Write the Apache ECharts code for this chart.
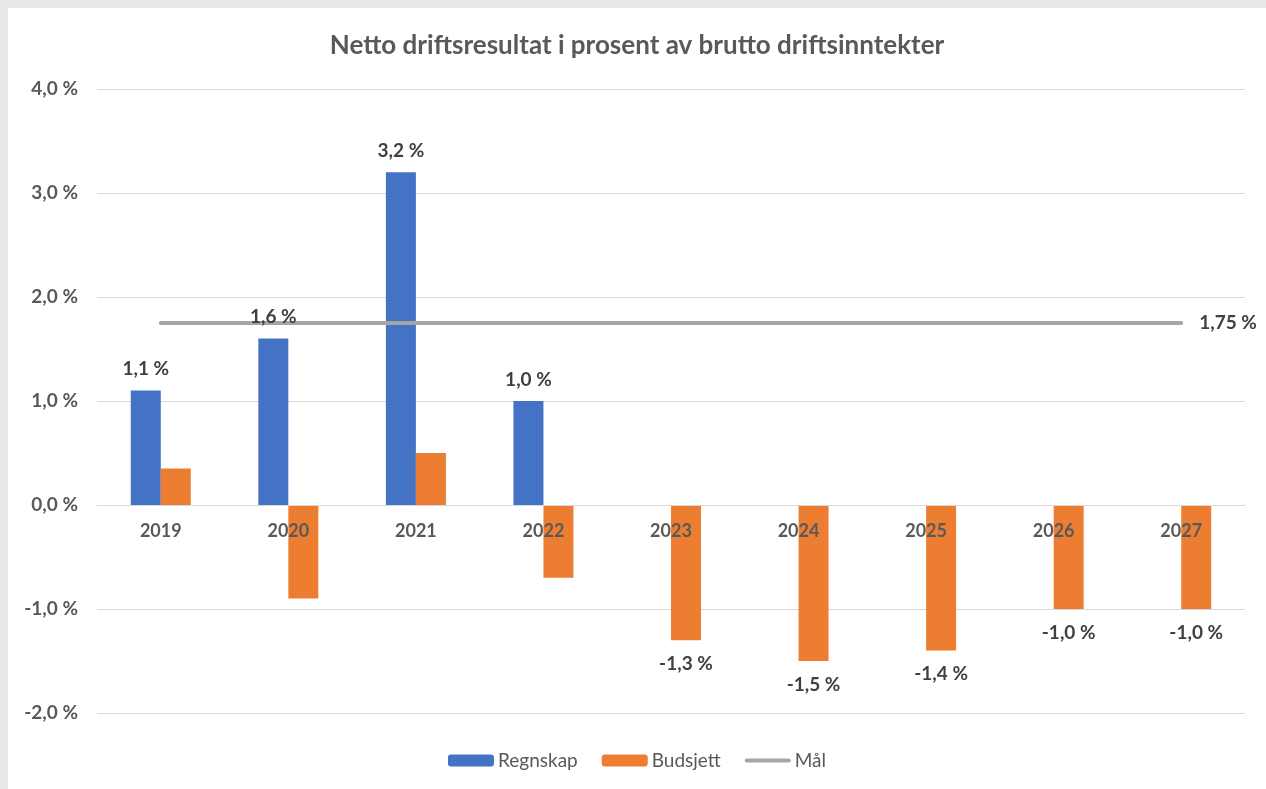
<!DOCTYPE html>
<html>
<head>
<meta charset="utf-8">
<script src="https://cdn.jsdelivr.net/npm/echarts@6/dist/echarts.min.js"></script>
<style>
  body { margin: 0; background: #e9e9e9; }
  #chart { position: absolute; left: 8px; top: 8px; width: 1258px; height: 781px; background: #fff; }
</style>
</head>
<body>
<div id="chart"></div>
<script>
var years = ['2019', '2020', '2021', '2022', '2023', '2024', '2025', '2026', '2027'];
var regnskap = [1.1, 1.6, 3.2, 1.0, null, null, null, null, null];
var budsjett = [0.35, -0.9, 0.5, -0.7, -1.3, -1.5, -1.4, -1.0, -1.0];
var maal = [1.75, 1.75, 1.75, 1.75, 1.75, 1.75, 1.75, 1.75, 1.75];
// budsjett labels only shown for these years
var budsjettLabelFrom = 4;

var fontName = 'Lato, "Open Sans", sans-serif';
var fmt = function (v) { return v.toFixed(1).replace('.', ',') + ' %'; };

var myChart = echarts.init(document.getElementById('chart'));

var option = {
    animation: false,
    textStyle: { fontFamily: fontName },
    title: {
        text: 'Netto driftsresultat i prosent av brutto driftsinntekter',
        left: 'center',
        top: 20,
        textStyle: { fontSize: 26, fontWeight: 'bold', color: '#595959', fontFamily: fontName }
    },
    legend: {
        bottom: 14,
        left: 'center',
        itemWidth: 46,
        itemHeight: 12,
        itemGap: 24,
        textStyle: { fontSize: 19, color: '#595959', padding: [0, 0, 0, -1] },
        data: [
            'Regnskap',
            'Budsjett',
            { name: 'Mål', icon: 'path://M2,0 L44,0 A2,2 0 0 1 44,4 L2,4 A2,2 0 0 1 2,0 Z' }
        ]
    },
    grid: { left: 89, right: 21, top: 81, height: 624, containLabel: false },
    xAxis: {
        type: 'category',
        data: years,
        offset: -208,
        z: 10,
        axisLine: { onZero: false, lineStyle: { color: '#d9d9d9', width: 1 } },
        axisTick: { show: false },
        axisLabel: { margin: 17, fontSize: 18, fontWeight: 'bold', color: '#595959' }
    },
    yAxis: {
        type: 'value',
        min: -2,
        max: 4,
        interval: 1,
        axisLine: { show: false },
        axisTick: { show: false },
        splitLine: { lineStyle: { color: '#d9d9d9', width: 1 } },
        axisLabel: { margin: 19, fontSize: 19, fontWeight: 'bold', color: '#595959', formatter: fmt }
    },
    series: [
        {
            name: 'Regnskap',
            type: 'bar',
            data: regnskap,
            barWidth: 30,
            barGap: '0%',
            itemStyle: { color: '#4472C4' }
        },
        {
            name: 'Budsjett',
            type: 'bar',
            data: budsjett,
            barWidth: 30,
            barGap: '0%',
            itemStyle: { color: '#ED7D31' },
            label: {
                show: true,
                position: 'bottom',
                distance: 14,
                fontSize: 19,
                fontWeight: 'bold',
                color: '#404040',
                formatter: function (p) { return p.dataIndex >= budsjettLabelFrom ? fmt(p.value) : ''; }
            }
        },
        {
            name: 'Mål',
            type: 'line',
            data: maal,
            symbol: 'none',
            lineStyle: { color: '#A5A5A5', width: 4, cap: 'round' },
            itemStyle: { color: '#A5A5A5' },
            endLabel: {
                show: true,
                distance: 18,
                fontSize: 19,
                fontWeight: 'bold',
                color: '#404040',
                formatter: function (p) { return p.value.toFixed(2).replace('.', ',') + ' %'; }
            },
            z: 3
        },
        {
            // labels for Regnskap, drawn above the Mål line
            name: 'RegnskapLabels',
            type: 'scatter',
            data: regnskap,
            symbolSize: 0,
            silent: true,
            z: 5,
            itemStyle: { opacity: 1, color: '#4472C4' },
            label: {
                show: true,
                position: 'top',
                distance: 12,
                offset: [-15, 0],
                fontSize: 19,
                fontWeight: 'bold',
                color: '#404040',
                opacity: 1,
                formatter: function (p) { return fmt(p.value); }
            }
        }
    ]
};

myChart.setOption(option);
</script>
</body>
</html>
